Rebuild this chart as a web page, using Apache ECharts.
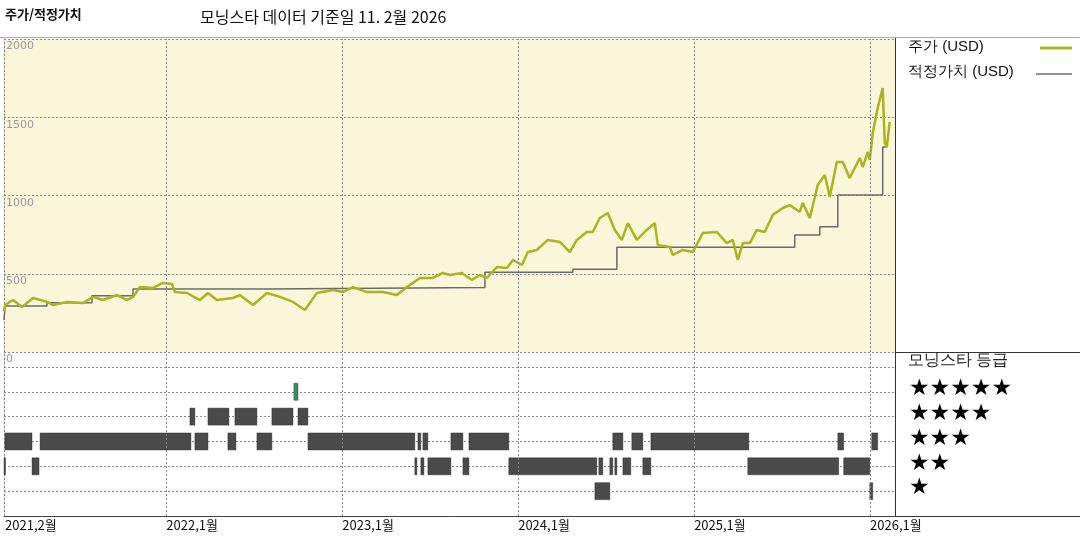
<!DOCTYPE html>
<html>
<head>
<meta charset="utf-8">
<script src="https://cdn.jsdelivr.net/npm/echarts@6/dist/echarts.min.js"></script>
<style>html,body{margin:0;padding:0;background:#fff}#main{width:1080px;height:540px}</style>
</head>
<body>
<div id="main"></div>
<script>
// x values are months counted from Jan 2021 (1 = Feb 2021, 12 = Jan 2022 ...)
const priceX = [0.93,1.0,1.55,2.16,2.91,3.86,4.27,5.23,6.32,7.0,7.68,8.64,9.32,9.73,10.2,11.09,11.77,12.39,12.59,13.41,14.3,14.84,15.45,16.55,17.02,17.91,18.86,19.75,20.64,21.45,22.27,23.36,24.05,24.73,25.68,26.77,27.73,28.41,29.3,30.18,30.86,31.34,32.16,32.84,33.39,33.86,34.55,35.23,35.64,36.25,36.66,37.27,38.02,38.84,39.52,40.0,40.68,41.09,41.57,42.11,42.59,43.07,43.48,44.09,44.77,45.32,45.52,46.34,46.55,47.23,47.91,48.59,49.55,50.23,50.64,50.98,51.32,51.8,52.27,52.82,53.36,54.05,54.52,55.2,55.41,55.89,56.43,56.91,57.25,57.73,58.14,58.61,59.3,59.5,59.84,59.98,60.18,60.52,60.86,61.0,61.14,61.34]
const priceY = [260,300,332,288,345,320,300,320,313,352,332,364,332,352,415,409,441,435,383,377,332,377,332,345,364,300,377,352,320,268,377,396,383,415,383,383,364,415,473,473,505,492,505,460,492,473,543,537,588,556,639,652,716,703,639,716,767,767,856,888,780,716,824,716,780,824,684,671,620,652,639,760,767,696,716,588,696,696,780,767,876,920,939,895,952,856,1067,1131,990,1214,1214,1112,1240,1182,1278,1227,1399,1559,1687,1336,1310,1470]
const fairX = [0.93,1.0,3.86,6.93,9.73,18.86,33.73,39.73,42.73,54.86,56.57,57.8,60.86,61.14]
const fairY = [205,294,315,360,402,412,509,528,669,748,801,1003,1310,1310]
// rating segments: [from month, to month, stars]
const ratings = [
  [1.0,2.84,3],[3.39,13.68,3],[13.95,14.84,3],[16.2,16.75,3],[18.18,19.2,3],[21.66,28.95,3],[29.16,29.36,3],[29.5,29.84,3],[31.41,32.23,3],[32.64,35.36,3],[42.45,43.14,3],[43.75,44.5,3],[45.05,51.73,3],[57.8,58.2,3],[60.11,60.52,3],
  [13.61,13.95,4],[14.84,16.27,4],[16.68,18.18,4],[19.2,20.64,4],[20.98,21.66,4],
  [20.7,20.98,5],
  [0.93,1.0,2],[2.84,3.32,2],[28.95,29.09,2],[29.36,29.57,2],[29.84,31.41,2],[32.23,32.64,2],[35.36,41.36,2],[41.5,41.77,2],[42.25,42.45,2],[42.59,42.73,2],[43.14,43.68,2],[44.5,45.05,2],[51.66,57.86,2],[58.2,59.98,2],
  [41.23,42.25,1],[59.98,60.18,1]
]
const yearTicks = [1,12,24,36,48,60]
const yearLabels = ['2021,2월','2022,1월','2023,1월','2024,1월','2025,1월','2026,1월']
const priceTicks = [0,500,1000,1500,2000]

const dash = {type:[2,2], color:'#888', width:1}
const xBase = {type:'value', min:0.93, max:61.7, axisTick:{show:false}, splitLine:{show:false}, axisLine:{show:false}}

const chart = echarts.init(document.getElementById('main'))
chart.setOption({
  animation:false,
  textStyle:{fontFamily:'Noto Sans CJK KR'},
  grid:[
    {left:4, top:39, width:891, height:313, backgroundColor:'#faf6da', show:true, borderWidth:0},
    {left:4, top:352, width:891, height:164}
  ],
  xAxis:[
    Object.assign({gridIndex:0, axisLabel:{show:false}}, xBase),
    Object.assign({gridIndex:1, axisLabel:{customValues:yearTicks, align:'left', margin:3, color:'#111', fontSize:13,
      formatter:v=>yearLabels[yearTicks.indexOf(v)]}}, xBase, {axisLine:{show:true, lineStyle:{color:'#444'}}})
  ],
  yAxis:[
    {gridIndex:0, type:'value', min:0, max:2000, interval:500, axisLine:{show:true, lineStyle:dash}, axisTick:{show:false},
      splitLine:{lineStyle:dash},
      axisLabel:{inside:true, verticalAlign:'top', align:'left', margin:2, padding:[2,0,0,0], color:'#999', fontSize:11, fontFamily:'DejaVu Sans',
        formatter:v=>priceTicks.includes(v)?String(v):''}},
    {gridIndex:1, type:'value', min:0, max:6.6, interval:1, axisLine:{show:true, lineStyle:dash}, axisTick:{show:false},
      axisLabel:{show:false}, splitLine:{lineStyle:dash, showMinLine:false}}
  ],
  series:[
    {type:'line', xAxisIndex:0, yAxisIndex:0, data:fairX.map((x,i)=>[x,fairY[i]]), step:'end', symbol:'none',
      lineStyle:{color:'#6a6a6a', width:1.5},
      markLine:{silent:true, symbol:'none', label:{show:false}, lineStyle:dash, data:[12,24,36,48,60].map(v=>({xAxis:v}))}},
    {type:'line', xAxisIndex:0, yAxisIndex:0, data:priceX.map((x,i)=>[x,priceY[i]]), symbol:'none',
      lineStyle:{color:'#a9b41e', width:2.5}},
    {type:'custom', xAxisIndex:1, yAxisIndex:1, data:ratings,
      renderItem:(p,api)=>{
        const a = api.coord([api.value(0), api.value(2)])
        const b = api.coord([api.value(1), api.value(2)])
        const w = Math.max(b[0]-a[0], 1.5)
        return {type:'rect', shape:{x:a[0], y:a[1]-8.5, width:w, height:17},
          style:{fill:api.value(2)===5?'#3f8a6c':'#4a4a4a', stroke:'#222', lineWidth:0.4}}
      },
      markLine:{silent:true, symbol:'none', label:{show:false}, lineStyle:dash, data:[12,24,36,48,60].map(v=>({xAxis:v}))}}
  ],
  graphic:[
    {type:'text', left:5, top:8, style:{text:'주가/적정가치', fontSize:13, fontWeight:'bold', fill:'#111', fontFamily:'Noto Sans CJK KR'}},
    {type:'text', left:200, top:9, style:{text:'모닝스타 데이터 기준일 11. 2월 2026', fontSize:16, fill:'#111', fontFamily:'Noto Sans CJK KR'}},
    {type:'line', shape:{x1:0, y1:37.5, x2:1080, y2:37.5}, style:{stroke:'#aaa', lineWidth:1}},
    {type:'line', shape:{x1:895.5, y1:38, x2:895.5, y2:516}, style:{stroke:'#333', lineWidth:1}},
    {type:'line', shape:{x1:895, y1:352.5, x2:1080, y2:352.5}, style:{stroke:'#333', lineWidth:1}},
    {type:'line', shape:{x1:895, y1:516.5, x2:1080, y2:516.5}, style:{stroke:'#333', lineWidth:1}},
    {type:'text', left:908, top:39, style:{text:'주가 (USD)', fontSize:15, fill:'#111'}},
    {type:'line', shape:{x1:1040, y1:48, x2:1072, y2:48}, style:{stroke:'#a9b41e', lineWidth:3}},
    {type:'text', left:908, top:64, style:{text:'적정가치 (USD)', fontSize:15, fill:'#111'}},
    {type:'line', shape:{x1:1036, y1:74, x2:1072, y2:74}, style:{stroke:'#6a6a6a', lineWidth:1.5}},
    {type:'text', left:908, top:353, style:{text:'모닝스타 등급', fontSize:16, fill:'#222'}},
    ...['★★★★★','★★★★','★★★','★★','★'].map((s,i)=>({type:'text', left:909, top:378+i*24.7,
      style:{text:s, fontSize:23, fill:'#000', fontFamily:'DejaVu Sans'}}))
  ]
})
</script>
</body>
</html>
